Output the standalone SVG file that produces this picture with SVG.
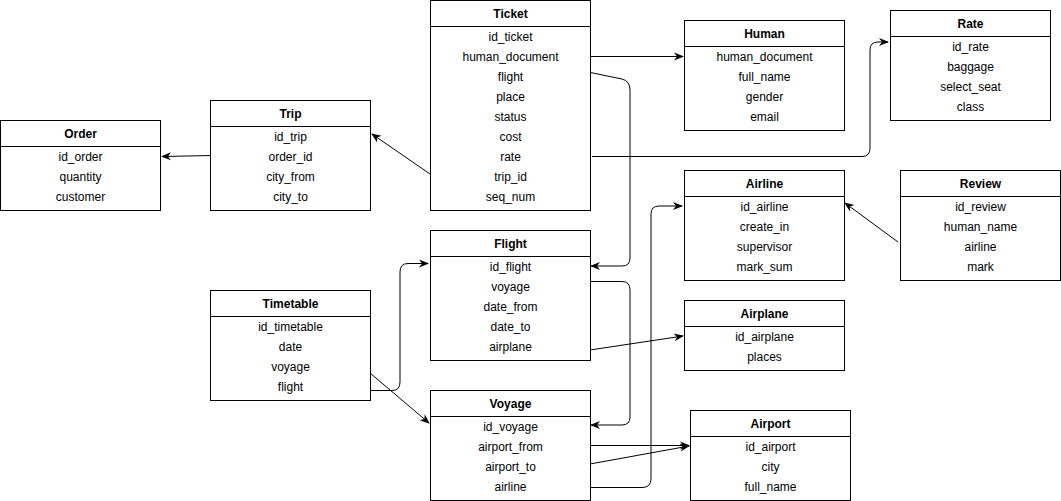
<svg xmlns="http://www.w3.org/2000/svg" width="1061" height="501" viewBox="0 0 1061 501">
<defs>
<marker id="arr" viewBox="0 0 10 10" refX="9" refY="5" markerWidth="10" markerHeight="10" markerUnits="userSpaceOnUse" orient="auto">
<path d="M0,1 L10,5 L0,9 L3,5 Z" fill="#000"/>
</marker>
<style>
.box{fill:#fff;stroke:#000;stroke-width:1}
.t{font-family:"Liberation Sans",Arial,sans-serif;font-size:12px;fill:#000;text-anchor:middle;dominant-baseline:central}
.h{font-weight:bold}
.c{fill:none;stroke:#000;stroke-width:1;marker-end:url(#arr)}
</style>
</defs>
<rect width="1061" height="501" fill="#fff"/>

<g id="connectors">
<path class="c" d="M590.5,56.5 L683,56.5"/>
<path class="c" d="M588,72 L622,79 Q630,81 630,90 L630,258 Q630,266 622,266 L591,266"/>
<path class="c" d="M592,156.5 L862,156.5 Q870,156.5 870,148 L870,50 Q870,42 878,42 L888,42"/>
<path class="c" d="M430,174 L372,134"/>
<path class="c" d="M212,155.5 L162,156.5"/>
<path class="c" d="M590,281.5 L622,281.5 Q630,281.5 630,290 L630,417 Q630,425 622,425 L591,425"/>
<path class="c" d="M590,350 L683,336"/>
<path class="c" d="M370,390.5 L392,390.5 Q400,390.5 400,382 L400,272 Q400,263.5 408,263.5 L428,263.5"/>
<path class="c" d="M370,373 L429,423"/>
<path class="c" d="M590,445.5 L689,445.5"/>
<path class="c" d="M590,464 L689,446"/>
<path class="c" d="M590,487.5 L642,487.5 Q651,487.5 651,479 L651,214 Q651,206 659,206 L682,206"/>
<path class="c" d="M898,242 L845,203"/>
</g>

<g id="ticket">
<rect class="box" x="430.5" y="0.5" width="160" height="210"/>
<line x1="430.5" y1="26.5" x2="590.5" y2="26.5" stroke="#000"/>
<text class="t h" x="510.5" y="14">Ticket</text>
<text class="t" x="510.5" y="36.5">id_ticket</text>
<text class="t" x="510.5" y="56.5">human_document</text>
<text class="t" x="510.5" y="76.5">flight</text>
<text class="t" x="510.5" y="96.5">place</text>
<text class="t" x="510.5" y="116.5">status</text>
<text class="t" x="510.5" y="136.5">cost</text>
<text class="t" x="510.5" y="156.5">rate</text>
<text class="t" x="510.5" y="176.5">trip_id</text>
<text class="t" x="510.5" y="196.5">seq_num</text>
</g>

<g id="human">
<rect class="box" x="684.5" y="20.5" width="160" height="110"/>
<line x1="684.5" y1="46.5" x2="844.5" y2="46.5" stroke="#000"/>
<text class="t h" x="764.5" y="34">Human</text>
<text class="t" x="764.5" y="56.5">human_document</text>
<text class="t" x="764.5" y="76.5">full_name</text>
<text class="t" x="764.5" y="96.5">gender</text>
<text class="t" x="764.5" y="116.5">email</text>
</g>

<g id="rate">
<rect class="box" x="890.5" y="10.5" width="160" height="110"/>
<line x1="890.5" y1="36.5" x2="1050.5" y2="36.5" stroke="#000"/>
<text class="t h" x="970.5" y="24">Rate</text>
<text class="t" x="970.5" y="46.5">id_rate</text>
<text class="t" x="970.5" y="66.5">baggage</text>
<text class="t" x="970.5" y="86.5">select_seat</text>
<text class="t" x="970.5" y="106.5">class</text>
</g>

<g id="trip">
<rect class="box" x="210.5" y="100.5" width="160" height="110"/>
<line x1="210.5" y1="126.5" x2="370.5" y2="126.5" stroke="#000"/>
<text class="t h" x="290.5" y="114">Trip</text>
<text class="t" x="290.5" y="136.5">id_trip</text>
<text class="t" x="290.5" y="156.5">order_id</text>
<text class="t" x="290.5" y="176.5">city_from</text>
<text class="t" x="290.5" y="196.5">city_to</text>
</g>

<g id="order">
<rect class="box" x="0.5" y="120.5" width="160" height="90"/>
<line x1="0.5" y1="146.5" x2="160.5" y2="146.5" stroke="#000"/>
<text class="t h" x="80.5" y="134">Order</text>
<text class="t" x="80.5" y="156.5">id_order</text>
<text class="t" x="80.5" y="176.5">quantity</text>
<text class="t" x="80.5" y="196.5">customer</text>
</g>

<g id="airline">
<rect class="box" x="684.5" y="170.5" width="160" height="110"/>
<line x1="684.5" y1="196.5" x2="844.5" y2="196.5" stroke="#000"/>
<text class="t h" x="764.5" y="184">Airline</text>
<text class="t" x="764.5" y="206.5">id_airline</text>
<text class="t" x="764.5" y="226.5">create_in</text>
<text class="t" x="764.5" y="246.5">supervisor</text>
<text class="t" x="764.5" y="266.5">mark_sum</text>
</g>

<g id="review">
<rect class="box" x="900.5" y="170.5" width="160" height="110"/>
<line x1="900.5" y1="196.5" x2="1060.5" y2="196.5" stroke="#000"/>
<text class="t h" x="980.5" y="184">Review</text>
<text class="t" x="980.5" y="206.5">id_review</text>
<text class="t" x="980.5" y="226.5">human_name</text>
<text class="t" x="980.5" y="246.5">airline</text>
<text class="t" x="980.5" y="266.5">mark</text>
</g>

<g id="flight">
<rect class="box" x="430.5" y="230.5" width="160" height="130"/>
<line x1="430.5" y1="256.5" x2="590.5" y2="256.5" stroke="#000"/>
<text class="t h" x="510.5" y="244">Flight</text>
<text class="t" x="510.5" y="266.5">id_flight</text>
<text class="t" x="510.5" y="286.5">voyage</text>
<text class="t" x="510.5" y="306.5">date_from</text>
<text class="t" x="510.5" y="326.5">date_to</text>
<text class="t" x="510.5" y="346.5">airplane</text>
</g>

<g id="timetable">
<rect class="box" x="210.5" y="290.5" width="160" height="110"/>
<line x1="210.5" y1="316.5" x2="370.5" y2="316.5" stroke="#000"/>
<text class="t h" x="290.5" y="304">Timetable</text>
<text class="t" x="290.5" y="326.5">id_timetable</text>
<text class="t" x="290.5" y="346.5">date</text>
<text class="t" x="290.5" y="366.5">voyage</text>
<text class="t" x="290.5" y="386.5">flight</text>
</g>

<g id="airplane">
<rect class="box" x="684.5" y="300.5" width="160" height="70"/>
<line x1="684.5" y1="326.5" x2="844.5" y2="326.5" stroke="#000"/>
<text class="t h" x="764.5" y="314">Airplane</text>
<text class="t" x="764.5" y="336.5">id_airplane</text>
<text class="t" x="764.5" y="356.5">places</text>
</g>

<g id="voyage">
<rect class="box" x="430.5" y="390.5" width="160" height="110"/>
<line x1="430.5" y1="416.5" x2="590.5" y2="416.5" stroke="#000"/>
<text class="t h" x="510.5" y="404">Voyage</text>
<text class="t" x="510.5" y="426.5">id_voyage</text>
<text class="t" x="510.5" y="446.5">airport_from</text>
<text class="t" x="510.5" y="466.5">airport_to</text>
<text class="t" x="510.5" y="486.5">airline</text>
</g>

<g id="airport">
<rect class="box" x="690.5" y="410.5" width="160" height="90"/>
<line x1="690.5" y1="436.5" x2="850.5" y2="436.5" stroke="#000"/>
<text class="t h" x="770.5" y="424">Airport</text>
<text class="t" x="770.5" y="446.5">id_airport</text>
<text class="t" x="770.5" y="466.5">city</text>
<text class="t" x="770.5" y="486.5">full_name</text>
</g>
</svg>
